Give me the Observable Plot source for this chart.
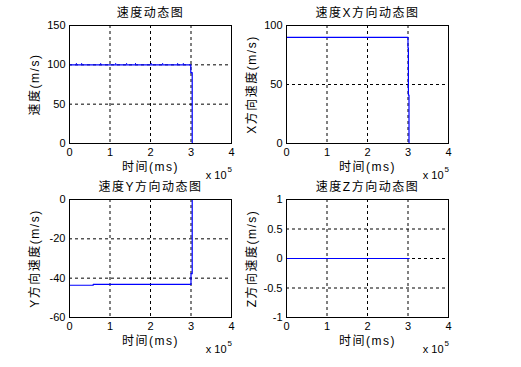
<!DOCTYPE html>
<html><head><meta charset="utf-8">
<script src="https://cdn.jsdelivr.net/npm/d3@7"></script>
<script src="https://cdn.jsdelivr.net/npm/@observablehq/plot@0.6"></script>
<style>
body{margin:0;background:#fff;}
#wrap{position:relative;width:521px;height:367px;background:#fff;overflow:hidden;}
#wrap svg{position:absolute;background:transparent;}
#wrap svg g[font-size="12"] text{letter-spacing:1.5px;}
</style></head><body><div id="wrap"></div>
<script>
// time axis in units of 1e5 ms
const xTicks = [0, 1, 2, 3, 4];

const speedT = [0, 2.995, 2.995, 3.03, 3.03];
const speedV = [100, 100, 90, 90, 0];
const speedBumpT = [0.17, 0.3, 0.77, 1.14, 1.41, 1.63, 2.02, 2.3, 2.67, 2.81];

const vxT = [0, 3.0, 3.0, 3.01, 3.01, 3.025, 3.025, 3.04];
const vxV = [90, 90, 81, 81, 41, 41, 0, 0];

const vyT = [0, 0.585, 0.585, 3.0, 3.0, 3.03, 3.03];
const vyV = [-43.6, -43.6, -43.2, -43.2, -37.7, -37.7, 0];

const vzT = [0, 3.03];
const vzV = [0, 0];

const titles = ["速度动态图", "速度X方向动态图", "速度Y方向动态图", "速度Z方向动态图"];
const yLabels = ["速度(m/s)", "X方向速度(m/s)", "Y方向速度(m/s)", "Z方向速度(m/s)"];
const xLabel = "时间(ms)";
const yTicksList = [[0, 50, 100, 150], [0, 50, 100], [-60, -40, -20, 0], [-1, -0.5, 0, 0.5, 1]];
const yDomains = [[0, 150], [0, 100], [-60, 0], [-1, 1]];
const seriesT = [speedT, vxT, vyT, vzT];
const seriesV = [speedV, vxV, vyV, vzV];

const FONT = '"Liberation Sans","Noto Sans CJK SC",sans-serif';
const BLUE = "#0000ff";

const layout = [
  {left: 0, top: 0, mL: 69, mT: 25},
  {left: 260, top: 0, mL: 26, mT: 25},
  {left: 0, top: 175, mL: 69, mT: 24},
  {left: 260, top: 175, mL: 26, mT: 24}
];

const wrap = document.getElementById("wrap");

for (let i = 0; i < 4; i++) {
  const L = layout[i];
  const W = 261, H = 180, pw = 162, ph = 118;
  const data = seriesT[i].map((t, k) => ({t, v: seriesV[i][k]}));
  const yT = yTicksList[i];
  const marks = [
    Plot.gridX(xTicks.slice(1, -1), {stroke: "#000", strokeOpacity: 1, strokeDasharray: "3,3"}),
    Plot.gridY(yT.slice(1, -1), {stroke: "#000", strokeOpacity: 1, strokeDasharray: "3,3"}),
    Plot.line(data, {x: "t", y: "v", stroke: BLUE, strokeWidth: 1.2}),
    Plot.frame({stroke: "#000", strokeWidth: 1}),
    Plot.axisX({ticks: xTicks, tickSize: 0, tickPadding: 5, label: null, fontSize: 11, tickFormat: d => String(d)}),
    Plot.axisY({ticks: yT, tickSize: 0, tickPadding: 4, label: null, fontSize: 11, tickFormat: d => String(d)}),
    Plot.text([titles[i]], {text: d => d, frameAnchor: "top", lineAnchor: "middle", dy: -12.5, fontSize: 12, fill: "#000"}),
    Plot.text([xLabel], {text: d => d, frameAnchor: "bottom", lineAnchor: "middle", dy: 24, fontSize: 12, fill: "#000"}),
    Plot.text([yLabels[i]], {text: d => d, frameAnchor: "left", textAnchor: "middle", lineAnchor: "middle", dx: -34, rotate: -90, fontSize: 12, fill: "#000"}),
    Plot.text(["x 10"], {text: d => d, frameAnchor: "bottom-right", lineAnchor: "middle", dx: -5, dy: 31.5, textAnchor: "end", fontSize: 11, fill: "#000"}),
    Plot.text(["5"], {text: d => d, frameAnchor: "bottom-right", lineAnchor: "middle", dx: -4, dy: 25.5, textAnchor: "start", fontSize: 8, fill: "#000"})
  ];
  if (i === 0) {
    marks.splice(3, 0, Plot.ruleX(speedBumpT, {x: d => d, y1: 100, y2: 101.6, stroke: BLUE, strokeWidth: 1}));
  }
  const svg = Plot.plot({
    width: W, height: H,
    marginLeft: L.mL, marginTop: L.mT,
    marginRight: W - L.mL - pw, marginBottom: H - L.mT - ph,
    x: {domain: [0, 4]},
    y: {domain: yDomains[i]},
    style: {fontFamily: FONT, fontSize: "11px", color: "#000", background: "transparent", overflow: "visible"},
    marks
  });
  svg.style.left = L.left + "px";
  svg.style.top = L.top + "px";
  wrap.appendChild(svg);
}
</script>
</body></html>
